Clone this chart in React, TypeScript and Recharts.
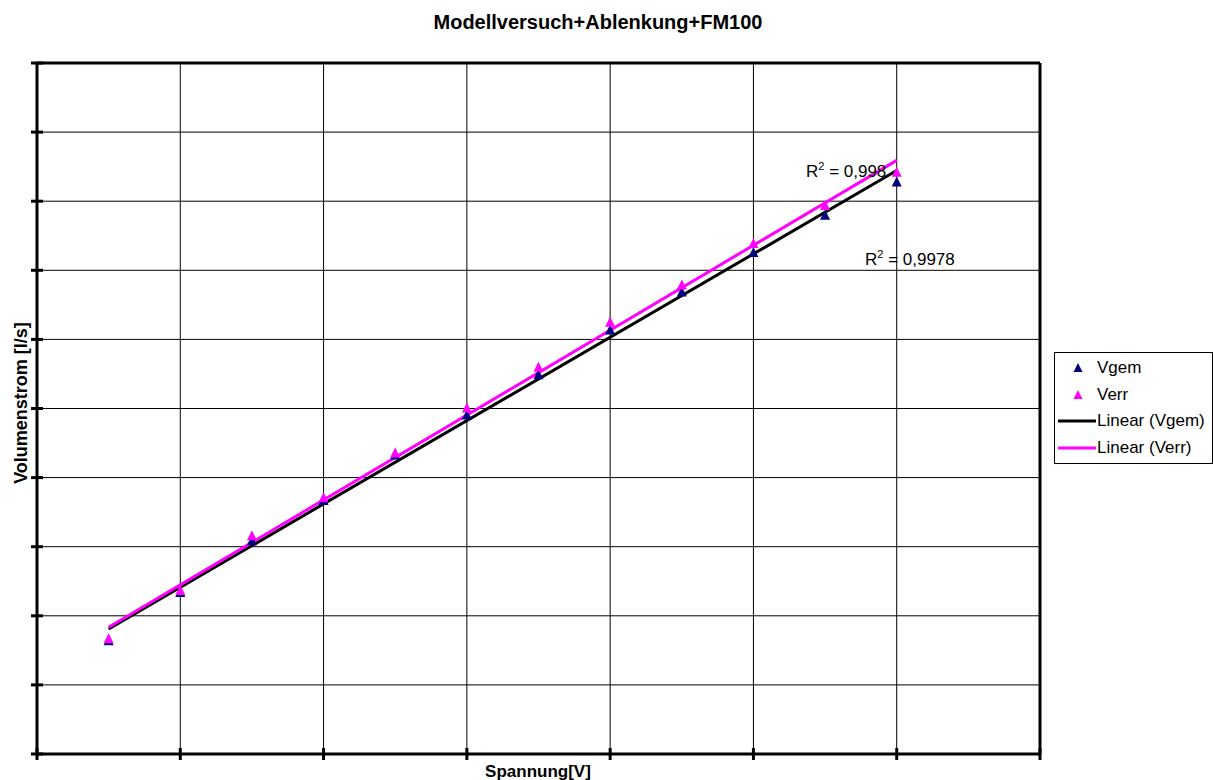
import React from 'react';
import {
  ComposedChart,
  Scatter,
  Line,
  XAxis,
  YAxis,
  CartesianGrid,
  ReferenceLine,
} from 'recharts';

// Spannung [V] – measurement points
const voltages = [0.5, 1, 1.5, 2, 2.5, 3, 3.5, 4, 4.5, 5, 5.5, 6];
// Volumenstrom gemessen / errechnet [l/s]
const vgem = [1.63, 2.33, 3.08, 3.66, 4.32, 4.9, 5.48, 6.13, 6.68, 7.25, 7.79, 8.27];
const verr = [1.66, 2.36, 3.15, 3.7, 4.35, 5.0, 5.59, 6.24, 6.78, 7.38, 7.93, 8.41];

const xTicks = [0, 1, 2, 3, 4, 5, 6, 7];
const yTicks = [0, 1, 2, 3, 4, 5, 6, 7, 8, 9, 10];

const R2_GEM = '0,9978';
const R2_ERR = '0,998';

const NAVY = '#000080';
const MAGENTA = '#FF00FF';
const FONT = '"Liberation Sans", Arial, sans-serif';

// least squares trend line (like Excel's "Linear" trendline)
function trend(xs: number[], ys: number[]) {
  const n = xs.length;
  const mx = xs.reduce((a, b) => a + b, 0) / n;
  const my = ys.reduce((a, b) => a + b, 0) / n;
  let sxy = 0;
  let sxx = 0;
  xs.forEach((x, i) => {
    sxy += (x - mx) * (ys[i] - my);
    sxx += (x - mx) * (x - mx);
  });
  const k = sxy / sxx;
  const d = my - k * mx;
  const first = xs[0];
  const last = xs[n - 1];
  return [
    { x: first, y: k * first + d },
    { x: last, y: k * last + d },
  ];
}

const gemData = voltages.map((x, i) => ({ x, y: vgem[i] }));
const errData = voltages.map((x, i) => ({ x, y: verr[i] }));
const gemTrend = trend(voltages, vgem);
const errTrend = trend(voltages, verr);

const Triangle = (color: string) => (props: any) => {
  const { cx, cy } = props;
  if (cx == null || cy == null) return <g />;
  return (
    <path
      d={`M${cx},${cy - 6} L${cx + 5},${cy + 4} L${cx - 5},${cy + 4} Z`}
      fill={color}
    />
  );
};

// tick marks crossing the axis (no tick labels in the original)
const XTick = (props: any) => {
  const { x, y } = props;
  return <line x1={x} x2={x} y1={y - 6} y2={y + 6} stroke="#000" strokeWidth={3} />;
};

const YTick = (props: any) => {
  const { x, y } = props;
  return <line x1={x - 6} x2={x + 6} y1={y} y2={y} stroke="#000" strokeWidth={3} />;
};

const legendItems = [
  { label: 'Vgem', kind: 'marker', color: NAVY },
  { label: 'Verr', kind: 'marker', color: MAGENTA },
  { label: 'Linear (Vgem)', kind: 'line', color: '#000' },
  { label: 'Linear (Verr)', kind: 'line', color: MAGENTA },
];

const LegendBox = () => (
  <div
    style={{
      position: 'absolute',
      left: 1054,
      top: 352,
      width: 157,
      height: 108,
      border: '1px solid #000',
      background: '#fff',
      paddingTop: 2,
      boxSizing: 'content-box',
      fontFamily: FONT,
      fontSize: 17,
      color: '#000',
    }}
  >
    {legendItems.map((it) => (
      <div key={it.label} style={{ display: 'flex', alignItems: 'center', height: 26.5 }}>
        <svg width={42} height={14} style={{ flexShrink: 0 }}>
          {it.kind === 'marker' ? (
            <path d="M23,2 L27.5,11 L18.5,11 Z" fill={it.color} />
          ) : (
            <line x1={3} x2={41} y1={7} y2={7} stroke={it.color} strokeWidth={3} />
          )}
        </svg>
        <span style={{ whiteSpace: 'nowrap' }}>{it.label}</span>
      </div>
    ))}
  </div>
);

export default function App() {
  return (
    <div style={{ position: 'absolute', left: 0, top: 0, width: 1213, height: 780, background: '#fff' }}>
      <ComposedChart
        width={1213}
        height={780}
        margin={{ top: 63, right: 173, bottom: 0, left: 0 }}
      >
        <CartesianGrid stroke="#000" strokeWidth={1} />
        <XAxis
          type="number"
          dataKey="x"
          domain={[0, 7]}
          ticks={xTicks}
          height={26}
          tickSize={0}
          tickMargin={0}
          tickLine={false}
          tick={<XTick />}
          axisLine={{ stroke: '#000', strokeWidth: 3 }}
          allowDataOverflow
        />
        <YAxis
          type="number"
          domain={[0, 10]}
          ticks={yTicks}
          width={37}
          tickSize={0}
          tickMargin={0}
          tickLine={false}
          tick={<YTick />}
          axisLine={{ stroke: '#000', strokeWidth: 3 }}
          allowDataOverflow
        />
        <ReferenceLine y={10} stroke="#000" strokeWidth={3} />
        <ReferenceLine x={7} stroke="#000" strokeWidth={3} />
        <Scatter name="Vgem" data={gemData} dataKey="y" shape={Triangle(NAVY)} isAnimationActive={false} />
        <Scatter name="Verr" data={errData} dataKey="y" shape={Triangle(MAGENTA)} isAnimationActive={false} />
        <Line
          name="Linear (Vgem)"
          data={gemTrend}
          dataKey="y"
          type="linear"
          stroke="#000"
          strokeWidth={3}
          dot={false}
          activeDot={false}
          isAnimationActive={false}
        />
        <Line
          name="Linear (Verr)"
          data={errTrend}
          dataKey="y"
          type="linear"
          stroke={MAGENTA}
          strokeWidth={3}
          dot={false}
          activeDot={false}
          isAnimationActive={false}
        />
      </ComposedChart>

      <LegendBox />

      {/* title, axis titles, R² annotations */}
      <svg
        width={1213}
        height={780}
        style={{ position: 'absolute', left: 0, top: 0, pointerEvents: 'none' }}
        fontFamily={FONT}
      >
        <text x={598} y={29} textAnchor="middle" fontWeight="bold" fontSize={20}>
          Modellversuch+Ablenkung+FM100
        </text>
        <text
          x={0}
          y={0}
          transform="translate(27,403) rotate(-90)"
          textAnchor="middle"
          fontWeight="bold"
          fontSize={18}
        >
          Volumenstrom [l/s]
        </text>
        <text x={538} y={777} textAnchor="middle" fontWeight="bold" fontSize={17}>
          Spannung[V]
        </text>
        <text x={806} y={177} fontSize={17}>
          R<tspan dy={-7} fontSize={11}>2</tspan>
          <tspan dy={7}> = {R2_ERR}</tspan>
        </text>
        <text x={865} y={265} fontSize={17}>
          R<tspan dy={-7} fontSize={11}>2</tspan>
          <tspan dy={7}> = {R2_GEM}</tspan>
        </text>
      </svg>
    </div>
  );
}
